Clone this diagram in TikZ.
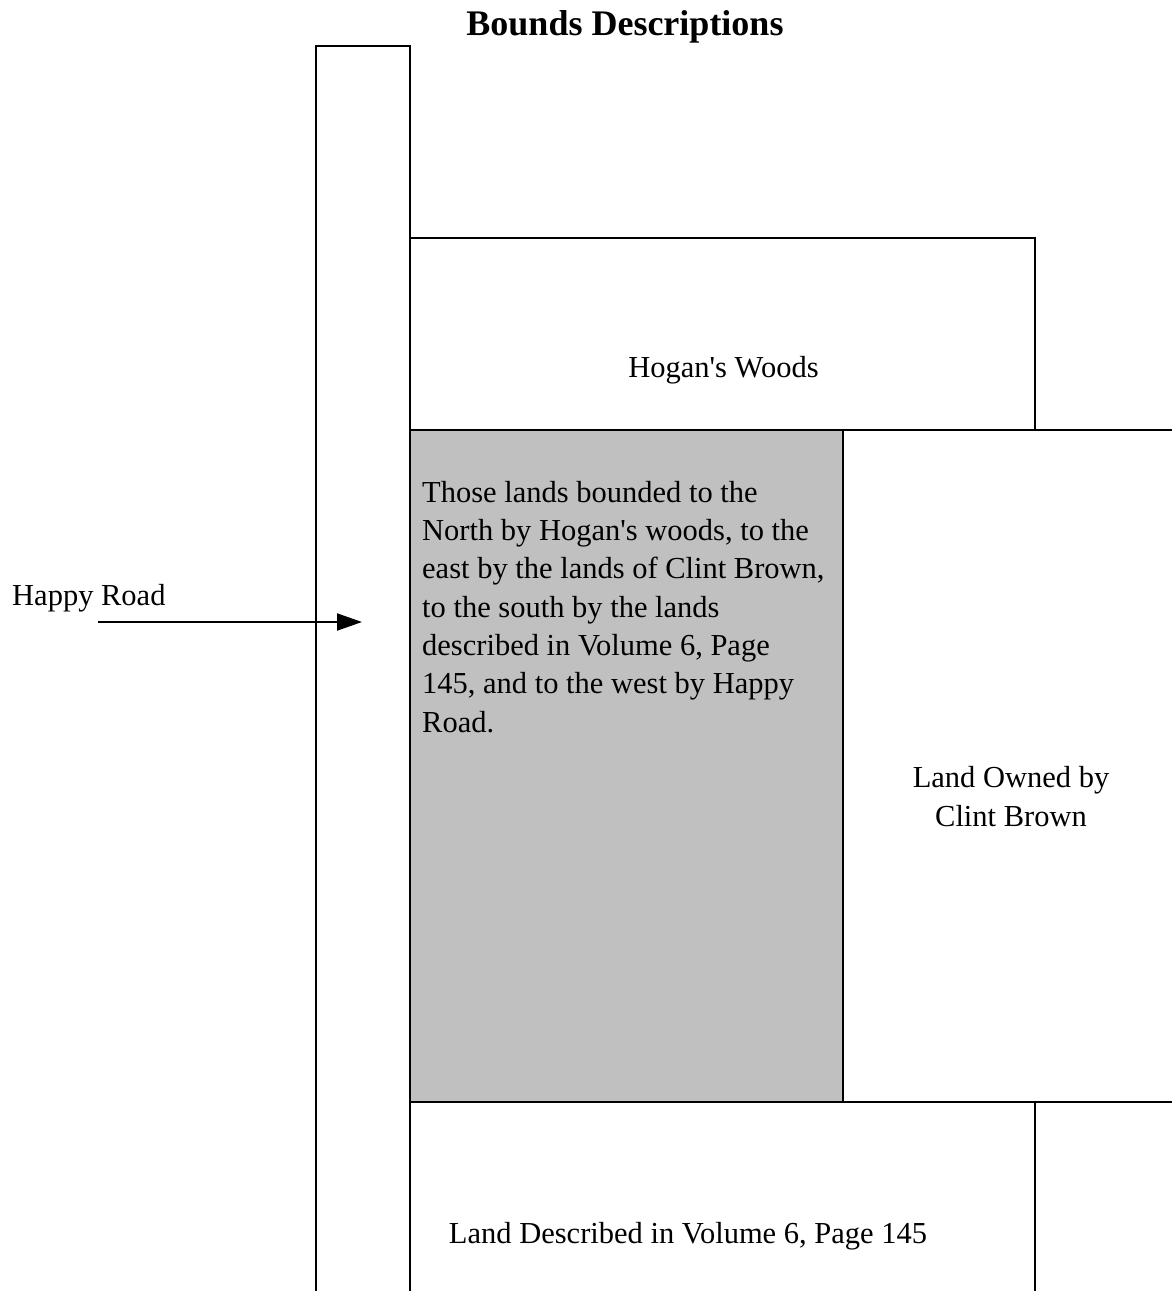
\documentclass[tikz,border=0pt]{standalone}
\usepackage{fontspec}
\setmainfont{Liberation Serif}[Ligatures=TeXOff]
\usetikzlibrary{arrows.meta}
\definecolor{parcelgray}{HTML}{C0C0C0}
\begin{document}
\begin{tikzpicture}[x=1bp,y=-1bp,
  boundary/.style={line width=2bp,draw=black},
  lbl/.style={inner sep=0pt,font=\fontsize{30.5bp}{38.3bp}\selectfont},
  ttl/.style={inner sep=0pt,font=\fontsize{36bp}{40bp}\selectfont\bfseries},
  pointer/.style={line width=2bp,-{Triangle[length=25bp,width=17bp]}}]
\useasboundingbox (0,0) rectangle (1172,1291);
% road
\draw[boundary] (316,1291) -- (316,46) -- (410,46) -- (410,1291);
% Hogan's woods
\draw[boundary] (410,238) rectangle (1035,430);
% described parcel
\filldraw[boundary,fill=parcelgray] (410,430) rectangle (843,1102);
% Clint Brown land
\draw[boundary] (843,430) -- (1172,430);
\draw[boundary] (843,1102) -- (1172,1102);
% Volume 6 land
\draw[boundary] (1035,1102) -- (1035,1291);
% texts
\node[ttl,anchor=base] (title) at (625,35) {Bounds Descriptions};
\node[lbl,anchor=base] (hogan) at (723.5,377) {Hogan's Woods};
\node[lbl,anchor=base west,align=left] (parcel) at (422,732) {Those lands bounded to the\\North by Hogan's woods, to the\\east by the lands of Clint Brown,\\to the south by the lands\\described in Volume 6, Page\\145, and to the west by Happy\\Road.};
\node[lbl,anchor=base,align=center] (brown) at (1011,826) {Land Owned by\\Clint Brown};
\node[lbl,anchor=base] (vol6) at (688,1243) {Land Described in Volume 6, Page 145};
\node[lbl,anchor=base west] (road) at (12,605) {Happy Road};
\coordinate (arrS) at (98,622);
\coordinate (arrE) at (362,622);
\draw[pointer] (arrS) -- (arrE);
\end{tikzpicture}
\end{document}
